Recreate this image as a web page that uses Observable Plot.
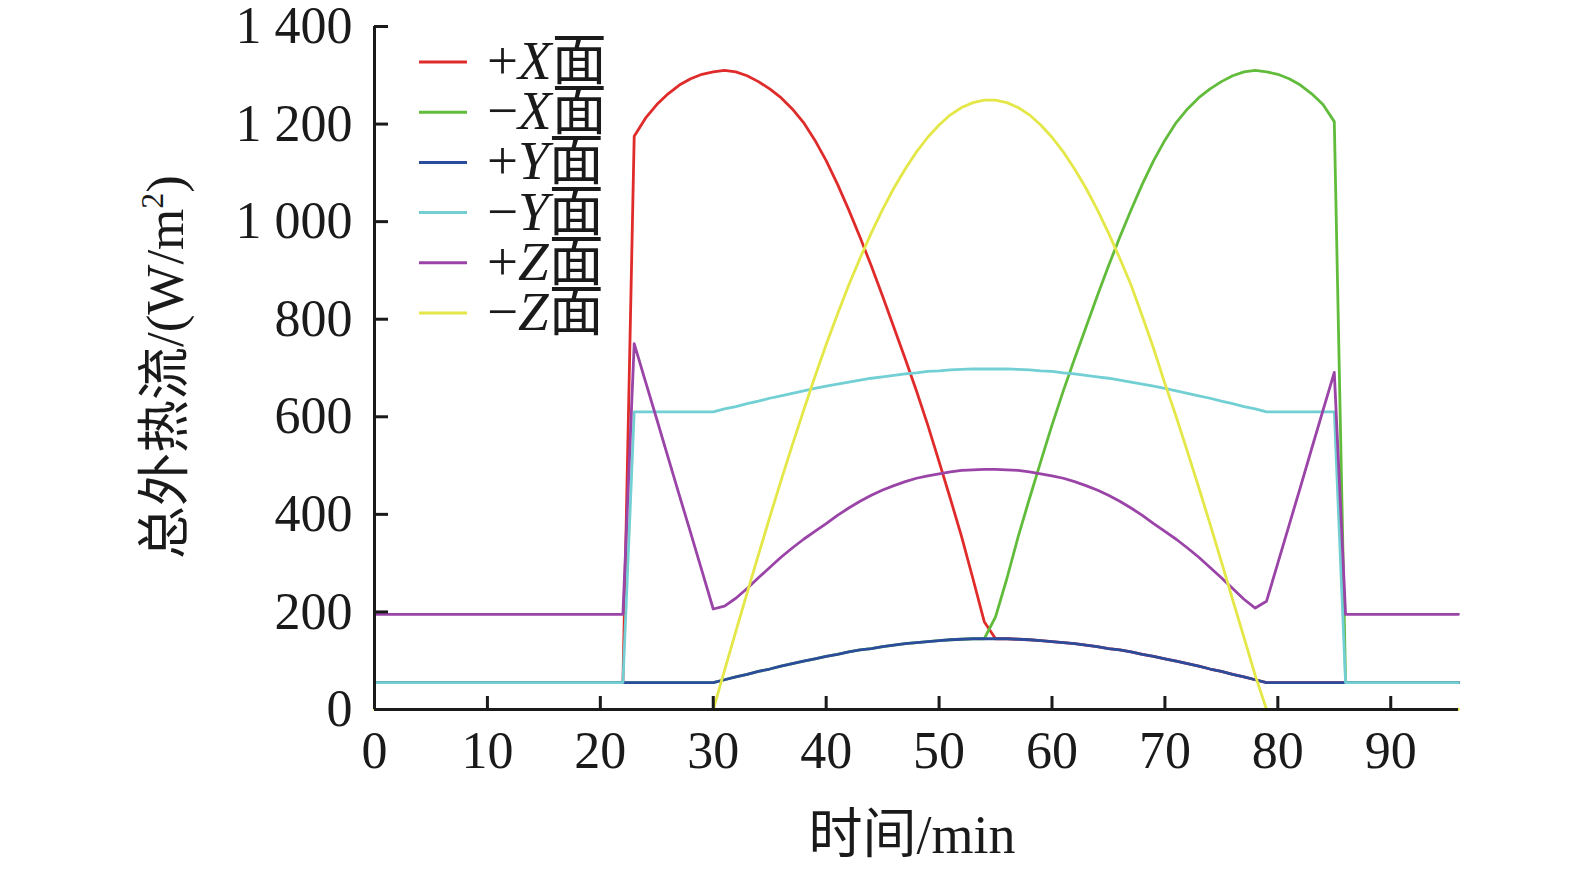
<!DOCTYPE html>
<html><head><meta charset="utf-8">
<script src="https://cdn.jsdelivr.net/npm/d3@7"></script>
<script src="https://cdn.jsdelivr.net/npm/@observablehq/plot@0.6"></script>
<style>html,body{margin:0;padding:0;background:#fff;} #chart{width:1575px;height:873px;}</style>
</head><body><div id="chart"></div>
<script>
// time in minutes, 0..96
const minutes = [0,1,2,3,4,5,6,7,8,9,10,11,12,13,14,15,16,17,18,19,20,21,22,23,24,25,26,27,28,29,30,31,32,33,34,35,36,37,38,39,40,41,42,43,44,45,46,47,48,49,50,51,52,53,54,55,56,57,58,59,60,61,62,63,64,65,66,67,68,69,70,71,72,73,74,75,76,77,78,79,80,81,82,83,84,85,86,87,88,89,90,91,92,93,94,95,96];

const plusX = [55,55,55,55,55,55,55,55,55,55,55,55,55,55,55,55,55,55,55,55,55,55,55,
  1175,1212,1240,1262,1280,1293,1302,1307,1310,1307,1299,1287,1272,1254,1231,1203,1167,1125,1077,1024,968,909,847,783,719,653,583,508,432,354,268,180,145,
  145,144,143,141,139,137,135,132,129,125,122,118,113,109,104,99,94,89,83,78,72,67,61,
  55,55,55,55,55,55,55,55,55,55,55,55,55,55,55,55,55,55];

const minusX = [55,55,55,55,55,55,55,55,55,55,55,55,55,55,55,55,55,55,55,55,55,55,55,55,55,55,55,55,55,55,55,
  61,67,72,78,83,89,94,99,104,109,113,118,122,125,129,132,135,137,139,141,143,144,145,145,
  190,268,354,432,508,583,653,719,783,847,909,968,1024,1077,1125,1167,1203,1231,1254,1272,1287,1299,1307,1310,1307,1302,1293,1280,1262,1240,1205,
  55,55,55,55,55,55,55,55,55,55,55];

const plusY = [55,55,55,55,55,55,55,55,55,55,55,55,55,55,55,55,55,55,55,55,55,55,55,55,55,55,55,55,55,55,55,
  61,67,72,78,83,89,94,99,104,109,113,118,122,125,129,132,135,137,139,141,143,144,145,
  145,145,145,144,143,141,139,137,135,132,129,125,122,118,113,109,104,99,94,89,83,78,72,67,61,
  55,55,55,55,55,55,55,55,55,55,55,55,55,55,55,55,55,55];

const minusY = [55,55,55,55,55,55,55,55,55,55,55,55,55,55,55,55,55,55,55,55,55,55,55,
  610,610,610,610,610,610,610,610,
  616,621,627,632,638,643,648,653,658,663,667,671,675,679,682,685,688,690,693,694,696,697,698,698,
  698,698,697,696,694,693,690,688,685,682,679,675,671,667,663,658,653,648,643,638,632,627,621,616,
  610,610,610,610,610,610,610,
  55,55,55,55,55,55,55,55,55,55,55];

const plusZ = [195,195,195,195,195,195,195,195,195,195,195,195,195,195,195,195,195,195,195,195,195,195,195,
  750,672,595,517,439,362,284,206,
  212,228,248,270,291,312,331,349,365,381,398,413,427,439,450,459,467,474,479,483,487,490,491,492,
  492,491,490,487,483,479,474,467,459,450,439,427,413,398,381,365,349,331,312,291,270,248,226,208,
  222,300,378,456,535,613,691,
  195,195,195,195,195,195,195,195,195,195,195];

const minusZ = [0,0,0,0,0,0,0,0,0,0,0,0,0,0,0,0,0,0,0,0,0,0,0,0,0,0,0,0,0,0,0,
  80,160,239,317,394,469,542,613,682,748,810,870,925,977,1025,1069,1108,1143,1173,1198,1219,1234,1244,1249,
  1249,1244,1234,1219,1198,1173,1143,1108,1069,1025,977,925,870,806,740,668,600,528,455,380,303,225,148,70,
  0,0,0,0,0,0,0,0,0,0,0,0,0,0,0,0,0,0];

const seriesNames = ["+X面","−X面","+Y面","−Y面","+Z面","−Z面"];
const seriesSign = ["+","−","+","−","+","−"];
const seriesAxis = ["X","X","Y","Y","Z","Z"];
const seriesColors = ["#e02b2b","#62bc3c","#2b4b9d","#72cfd3","#9a44a7","#e4e748"];
const seriesValues = [plusX, minusX, plusY, minusY, plusZ, minusZ];

const xTicks = [0,10,20,30,40,50,60,70,80,90];
const yTicks = [0,200,400,600,800,1000,1200,1400];
const yTickLabels = ["0","200","400","600","800","1 000","1 200","1 400"];

const data = seriesNames.flatMap((name, i) => seriesValues[i].map((v, j) => ({t: minutes[j], v, name})));

const serif = "'Liberation Serif','Times New Roman',serif";
const cjk = "'Noto Sans CJK SC','Noto Sans CJK JP',sans-serif";
const ink = "#1a1a1a";

const plot = Plot.plot({
  width: 1575, height: 873,
  marginLeft: 374, marginRight: 117, marginTop: 26, marginBottom: 164,
  x: {domain: [0, 96]},
  y: {domain: [0, 1400]},
  color: {domain: seriesNames, range: seriesColors},
  style: {fontFamily: serif, fontSize: "52px", color: ink, background: "#fff"},
  marks: [
    Plot.line(data, {x: "t", y: "v", z: "name", stroke: "name", strokeWidth: 2.8}),
    Plot.ruleY([0], {stroke: ink, strokeWidth: 3}),
    Plot.ruleX([0], {stroke: ink, strokeWidth: 3}),
    Plot.tickX(xTicks, {x: d => d, insetTop: 670, stroke: ink, strokeWidth: 3}),
    Plot.tickY(yTicks, {y: d => d, insetRight: 1070, stroke: ink, strokeWidth: 3}),
    Plot.axisX({ticks: xTicks, tickSize: 0, tickPadding: 22, label: null, fill: ink}),
    Plot.axisY({ticks: yTicks, tickSize: 0, tickPadding: 22, label: null, fill: ink,
      tickFormat: d => yTickLabels[yTicks.indexOf(d)]})
  ]
});
document.getElementById("chart").appendChild(plot);

const svg = d3.select(plot);
// x axis title
const xt = svg.append("text").attr("x", 912).attr("y", 853).attr("text-anchor", "middle")
  .attr("font-size", 54).attr("fill", ink);
xt.append("tspan").attr("font-family", cjk).text("时间");
xt.append("tspan").attr("font-family", serif).text("/min");

// y axis title
const yt = svg.append("text").attr("transform", "translate(183,367) rotate(-90)")
  .attr("text-anchor", "middle").attr("font-size", 53).attr("fill", ink);
yt.append("tspan").attr("font-family", cjk).text("总外热流");
yt.append("tspan").attr("font-family", serif).text("/(W/m");
yt.append("tspan").attr("font-family", serif).attr("font-size", 32).attr("dy", -20).text("2");
yt.append("tspan").attr("font-family", serif).attr("dy", 20).text(")");

// legend
const lg = svg.append("g");
seriesNames.forEach((name, i) => {
  const y = 62 + i * 50.2;
  lg.append("line").attr("x1", 419).attr("x2", 467).attr("y1", y).attr("y2", y)
    .attr("stroke", seriesColors[i]).attr("stroke-width", 3);
  const t = lg.append("text").attr("x", 487).attr("y", y + 17).attr("text-anchor", "start")
    .attr("font-size", 55).attr("fill", ink);
  t.append("tspan").attr("font-family", serif).text(seriesSign[i]);
  t.append("tspan").attr("font-family", serif).attr("font-style", "italic").text(seriesAxis[i]);
  t.append("tspan").attr("font-family", cjk).text("面");
});
</script>
</body></html>
